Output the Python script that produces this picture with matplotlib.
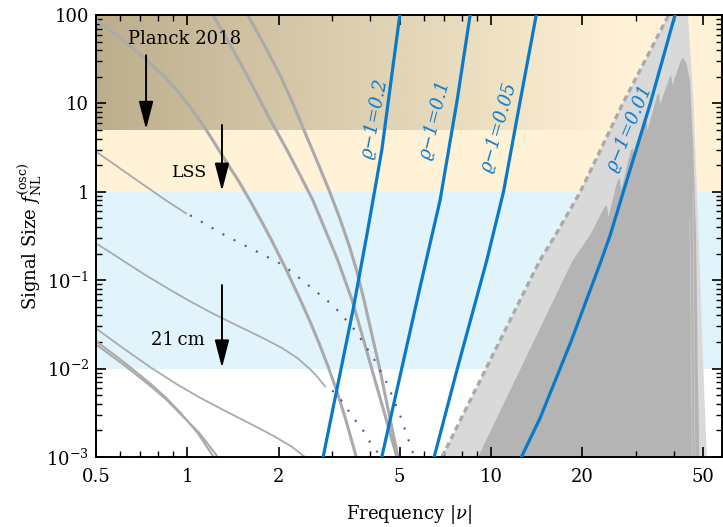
import numpy as np
import matplotlib
matplotlib.use("Agg")
import matplotlib.pyplot as plt
from matplotlib.ticker import FixedLocator, NullFormatter

plt.rcParams["font.family"] = ["DejaVu Serif"]
plt.rcParams["mathtext.fontset"] = "dejavuserif"

# ---- data (frequency nu, signal size f) ----
# thick gray curves
curveA_nu = [0.5, 0.565, 0.642, 0.73, 0.831, 0.94, 1.068, 1.165, 1.27, 1.37, 1.48, 1.62,
             1.76, 1.90, 2.1, 2.35, 2.53, 2.72, 2.9, 3.1, 3.33, 3.6]
curveA_f = [87.8, 64.6, 45.7, 31.5, 20.9, 13.1, 7.37, 4.76, 2.96, 1.96, 1.30, 0.76,
            0.455, 0.277, 0.139, 0.0611, 0.0347, 0.0191, 0.0108, 0.0057, 0.0026, 0.001]
curveB_nu = [1.58, 1.79, 2.02, 2.23, 2.46, 2.69, 2.93, 3.17, 3.41, 3.61, 3.82, 4.3, 4.94]
curveB_f = [100, 46.1, 20.9, 9.85, 4.38, 2.12, 1.04, 0.512, 0.248, 0.129, 0.0592, 0.01, 0.001]
curveC_nu = [1.215, 1.39, 1.57, 1.84, 2.13, 2.35, 2.59, 2.85, 3.13, 3.49, 3.9, 4.4, 4.9]
curveC_f = [100, 44.6, 20.9, 7.37, 2.96, 1.55, 0.803, 0.366, 0.168, 0.0592, 0.0156, 0.00367, 0.001]

# thin gray curves and their dotted continuations
curveD_nu = [0.5, 0.67, 0.85, 0.99]
curveD_f = [2.85, 1.41, 0.80, 0.57]
dotD_nu = [1.02, 1.33, 2.07, 3.02, 3.57, 4.09, 4.55, 5.02, 5.54]
dotD_f = [0.543, 0.322, 0.148, 0.052, 0.0271, 0.0134, 0.0068, 0.00295, 0.0011]
curveE_nu = [0.5, 0.6, 0.72, 0.85, 1.0, 1.2, 1.45, 1.75, 2.05, 2.3, 2.55, 2.72, 2.84]
curveE_f = [0.262, 0.175, 0.117, 0.083, 0.060, 0.0428, 0.031, 0.0227, 0.0171, 0.0132,
            0.0097, 0.0076, 0.0063]
dotE_nu = [3.0, 3.26, 3.51, 3.76, 4.0, 4.31]
dotE_f = [0.00566, 0.00414, 0.0028, 0.0021, 0.00146, 0.00104]
curveF_nu = [0.5, 0.62, 0.76, 0.92, 1.1, 1.35, 1.6, 1.9, 2.2, 2.44]
curveF_f = [0.0285, 0.01665, 0.0102, 0.0067, 0.00469, 0.00324, 0.00241, 0.00177, 0.00132, 0.001]
curveG1_nu = [0.5, 0.62, 0.754, 0.85, 0.946, 1.08, 1.22]
curveG1_f = [0.0205, 0.01172, 0.0068, 0.00469, 0.0032, 0.00188, 0.001]
curveG2_nu = [0.5, 0.62, 0.754, 0.85, 0.946, 1.09, 1.26]
curveG2_f = [0.0188, 0.0109, 0.0064, 0.0045, 0.0031, 0.0019, 0.001]

# blue lines, rho - 1 values
rho_labels = ["ϱ−1=0.2", "ϱ−1=0.1", "ϱ−1=0.05", "ϱ−1=0.01"]
blue_nu = [
    [2.80, 3.51, 3.90, 4.37, 5.01],
    [4.37, 5.71, 6.12, 6.80, 7.74, 8.54],
    [6.5, 7.75, 9.69, 11.0, 12.5, 14.1],
    [12.6, 14.5, 18.3, 23.1, 24.7, 27.3, 33.5, 40.4],
]
blue_f = [
    [0.001, 0.0456, 0.322, 2.96, 100],
    [0.001, 0.0592, 0.168, 0.803, 10.9, 100],
    [0.001, 0.01, 0.168, 1.0, 10.9, 100],
    [0.001, 0.00273, 0.0197, 0.168, 0.322, 1.0, 10, 100],
]
label_nu = [4.15, 6.54, 10.6, 28.6]
label_f = [6.8, 6.5, 5.4, 5.25]
label_rot = [79, 76, 74, 67]

# gray envelope on the right
dash_nu = [6.9, 14.5, 16.3, 19.7, 27.2, 38.5]
dash_f = [0.001, 0.168, 0.322, 1.0, 10, 100]
light_nu = [6.9, 14.5, 16.3, 19.7, 27.2, 38.5, 40.5, 44.6, 44.6, 46.5, 48.3, 50.1, 51.4]
light_f = [0.001, 0.168, 0.322, 1.0, 10, 100, 130, 130, 100, 10, 0.322, 0.01, 0.001]
dark_nu = [9.07, 18.6, 21.2, 23.6, 24.1, 24.4, 26.1, 26.6, 26.9, 28.9, 29.4, 29.7, 32.0, 32.5,
           32.8, 35.3, 35.8, 36.1, 38.8, 39.3, 39.6, 42.3, 43.0, 44.0, 45.3, 46.4, 47.4, 48.0, 48.6]
dark_f = [0.001, 0.168, 0.322, 0.66, 0.705, 0.52, 1.34, 1.43, 1.05, 2.95, 3.12, 2.3, 6.4, 6.8,
          5.0, 12.4, 13.1, 9.8, 19.8, 20.9, 16.0, 31.0, 32.6, 29.0, 17.4, 3.1, 0.32, 0.01, 0.001]
streak_nu = [[46.0, 45.2], [47.0, 46.3]]
streak_f = [[0.001, 0.5], [0.001, 1.0]]

# constraint bands
planck_lim = [5, 100]
lss_lim = [1, 5]
cm21_lim = [0.01, 1]

xticks = [0.5, 1, 2, 5, 10, 20, 50]
xticklabels = ["0.5", "1", "2", "5", "10", "20", "50"]
yticks = [1e-3, 1e-2, 1e-1, 1, 10, 100]
yticklabels = [r"$10^{-3}$", r"$10^{-2}$", r"$10^{-1}$", "1", "10", "100"]

gray = "#aaaaaa"
blue = "#0a7ac8"
purple = "#6a4a9a"

fig = plt.figure(figsize=(7.23, 5.27), dpi=100)
ax = fig.add_axes([96 / 723, 1 - 457 / 527, (722 - 96) / 723, (457 - 15) / 527])
ax.set_xscale("log")
ax.set_yscale("log")

# bands
ax.axhspan(cm21_lim[0], cm21_lim[1], color="#e1f4fc", lw=0, zorder=0)
ax.axhspan(lss_lim[0], planck_lim[1], color="#fff2d6", lw=0, zorder=0)
t = np.linspace(0, 1, 400)
alpha = np.clip(1 - t / 0.85, 0, 1)
grad = np.zeros((1, len(t), 4))
grad[..., 0] = 188 / 255
grad[..., 1] = 174 / 255
grad[..., 2] = 140 / 255
grad[..., 3] = alpha
y0 = (np.log10(planck_lim[0]) + 3) / 5
ax.imshow(grad, extent=(0, 1, y0, 1), transform=ax.transAxes, aspect="auto",
          interpolation="bilinear", zorder=0.5)

# gray envelope
ax.fill(light_nu, light_f, color="#d9d9d9", lw=0, zorder=1)
ax.fill(dark_nu, dark_f, color="#b4b4b4", lw=0, zorder=1.1)
for sn, sf in zip(streak_nu, streak_f):
    ax.plot(sn, sf, color="#c8c8c8", lw=0.7, zorder=1.2)
ax.plot(dash_nu, dash_f, color="#aaaaaa", lw=2.4, ls=(0, (1.8, 1.2)), zorder=2.5)

# gray curves
for nu, f in [(curveA_nu, curveA_f), (curveB_nu, curveB_f), (curveC_nu, curveC_f)]:
    ax.plot(nu, f, color=gray, lw=2.2, zorder=2, solid_capstyle="butt")
for nu, f in [(curveD_nu, curveD_f), (curveE_nu, curveE_f), (curveF_nu, curveF_f)]:
    ax.plot(nu, f, color=gray, lw=1.3, zorder=2)
ax.plot(curveG1_nu, curveG1_f, color=gray, lw=1.5, zorder=2)
ax.plot(curveG2_nu, curveG2_f, color=gray, lw=1.5, zorder=2)
ax.plot(dotD_nu, dotD_f, color=purple, lw=1.5, ls=(0, (1, 5)), zorder=2)
ax.plot(dotE_nu, dotE_f, color=purple, lw=1.5, ls=(0, (1, 5)), zorder=2)

# blue lines
for nu, f, lab, lx, ly, rot in zip(blue_nu, blue_f, rho_labels, label_nu, label_f, label_rot):
    ax.plot(nu, f, color=blue, lw=2.3, zorder=3)
    ax.text(lx, ly, lab, color=blue, fontsize=13, fontstyle="italic", rotation=rot,
            ha="center", va="center", rotation_mode="anchor", zorder=4)

# constraint labels and arrows
arrow = dict(arrowstyle="-|>,head_width=0.22,head_length=0.85", color="k", lw=1.4,
             shrinkA=0, shrinkB=0, mutation_scale=20)
ax.annotate("", xy=(0.731, 5.1), xytext=(0.731, 35), arrowprops=arrow, zorder=4)
ax.annotate("", xy=(1.30, 1.02), xytext=(1.30, 5.7), arrowprops=arrow, zorder=4)
ax.annotate("", xy=(1.30, 0.0102), xytext=(1.30, 0.088), arrowprops=arrow, zorder=4)
ax.text(0.979, 53.5, "Planck 2018", fontsize=13, ha="center", va="center", zorder=4)
ax.text(1.02, 1.65, "LSS", fontsize=12.5, ha="center", va="center", zorder=4)
ax.text(0.928, 0.0209, "21\u2009cm", fontsize=13, ha="center", va="center", zorder=4)

ax.set_xlim(0.5, 57.7)
ax.set_ylim(1e-3, 100)
ax.xaxis.set_major_locator(FixedLocator(xticks))
ax.set_xticklabels(xticklabels)
ax.xaxis.set_minor_locator(FixedLocator([0.6, 0.7, 0.8, 0.9, 3, 4, 6, 7, 8, 9, 30, 40]))
ax.xaxis.set_minor_formatter(NullFormatter())
ax.yaxis.set_major_locator(FixedLocator(yticks))
ax.set_yticklabels(yticklabels)
ax.yaxis.set_minor_locator(FixedLocator([m * 10.0 ** e for e in range(-3, 2) for m in range(2, 10)]))
ax.yaxis.set_minor_formatter(NullFormatter())
ax.tick_params(which="both", direction="in", top=True, right=True, labelsize=13)
ax.tick_params(which="major", length=7, width=1.2)
ax.tick_params(which="minor", length=4, width=1.0)
ax.tick_params(axis="x", pad=8)
ax.tick_params(axis="y", pad=5)
for s in ax.spines.values():
    s.set_linewidth(1.4)

ax.set_xlabel(r"Frequency $|\nu|$", fontsize=13, labelpad=12)
ax.set_ylabel(r"Signal Size $f_{\rm NL}^{\rm (osc)}$", fontsize=13, labelpad=2)

fig.savefig("out.png", dpi=100)
